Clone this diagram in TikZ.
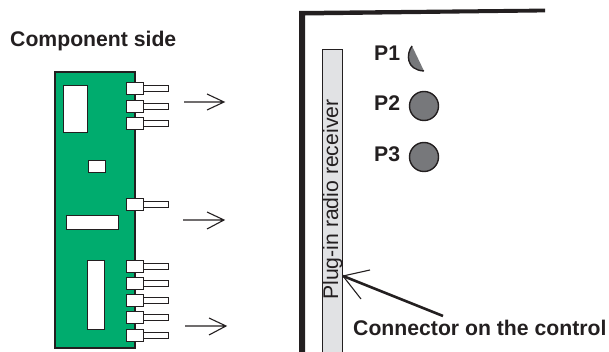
\documentclass[tikz,border=0pt]{standalone}
\usepackage{fontspec}
\setmainfont{Liberation Sans}
\definecolor{ink}{HTML}{231F20}
\definecolor{pcb}{HTML}{00AC6E}
\definecolor{barfill}{HTML}{E1E2E4}
\definecolor{ledfill}{HTML}{77787B}
\tikzset{
  px/.style={x=1pt,y=-1pt},
  board/.style={draw=ink,line width=1.2pt,fill=pcb,inner sep=0,outer sep=0,anchor=north west},
  chip/.style={draw=ink,line width=0.9pt,fill=white,inner sep=0,outer sep=0},
  header/.style={chip,minimum width=16.5pt,minimum height=12pt},
  pinbox/.style={draw=ink,line width=0.7pt,fill=white,inner sep=0,outer sep=0,minimum width=25pt,minimum height=6pt,anchor=west},
  slot/.style={draw=ink,line width=1pt,fill=barfill,inner sep=0,outer sep=0,anchor=north west},
  led/.style={circle,draw=ink,line width=1.4pt,fill=ledfill,inner sep=0,outer sep=0,minimum size=29pt},
  lbl/.style={font=\fontsize{21.2}{24}\selectfont\bfseries,text=ink,inner sep=0,anchor=base west},
  thinarrow/.style={draw=ink,line width=1.1pt},
}
\newcommand{\headerpin}[2]{%
  \node[pinbox] (pin#1) at (143,#2) {};
  \node[header] (hdr#1) at (135,#2) {};
}
\begin{document}
\begin{tikzpicture}[px]
\useasboundingbox (0,0) rectangle (609,352);
% frame
\fill[ink] (299,352) -- (299,11) -- (545,8.6) -- (545,12.4) -- (305,15.5) -- (305,352) -- cycle;
% title
\node[lbl] (title) at (10,47) {Component side};
% board
\node[board,minimum width=80pt,minimum height=276pt] (pcb) at (55,72) {};
\node[chip,minimum width=24pt,minimum height=47pt,anchor=north west] (u1) at (63,85) {};
\node[chip,minimum width=17pt,minimum height=12.5pt,anchor=north west] (u2) at (88,160) {};
\node[chip,minimum width=52pt,minimum height=14pt,anchor=north west] (u3) at (66,215) {};
\node[chip,minimum width=17pt,minimum height=69pt,anchor=north west] (u4) at (87,260) {};
\headerpin{a}{88.5}
\headerpin{b}{106}
\headerpin{c}{123}
\headerpin{d}{204.5}
\headerpin{e}{266}
\headerpin{f}{283}
\headerpin{g}{300}
\headerpin{h}{317.5}
\headerpin{i}{335}
% outgoing arrows
\coordinate (a1s) at (184,102); \coordinate (a1e) at (224,102);
\coordinate (a2s) at (183,220); \coordinate (a2e) at (224,220);
\coordinate (a3s) at (185,326); \coordinate (a3e) at (226,326);
\draw[thinarrow] (a1s) -- (a1e) (207,94) -- (a1e) -- (207,110);
\draw[thinarrow] (a2s) -- (a2e) (207,212) -- (a2e) -- (207,229);
\draw[thinarrow] (a3s) -- (a3e) (209,318) -- (a3e) -- (209,335);
% connector bar
\node[slot,minimum width=20pt,minimum height=303pt] (bar) at (322,50) {};
\node[rotate=90,font=\fontsize{21.2}{24}\selectfont,text=ink,inner sep=0,anchor=base west] (barlabel) at (338,300) {Plug-in radio receiver};
% lamps
\node[lbl] (p1) at (374,61) {P1};
\node[lbl] (p2) at (374,111) {P2};
\node[lbl] (p3) at (374,162) {P3};
\node[led] (led2) at (424,106) {};
\node[led] (led3) at (424,157) {};
\coordinate (led1a) at (412,46);
\coordinate (led1b) at (424,71);
\fill[ledfill] (led1a) .. controls (406,54) and (406,70) .. (led1b) -- cycle;
\draw[ink,line width=1.4pt] (led1a) .. controls (406,54) and (406,70) .. (led1b);
% connector label
\node[lbl] (conn) at (353,335) {Connector on the control};
\coordinate (tip) at (343,276);
\coordinate (tail) at (443,316);
\draw[ink,line width=2.6pt] (tail) -- (tip);
\draw[thinarrow] (370,270) -- (tip) -- (361,299);
\end{tikzpicture}
\end{document}
